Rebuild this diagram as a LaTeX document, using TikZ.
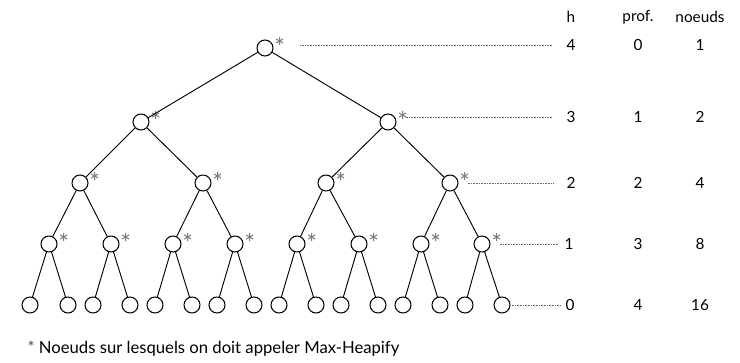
\documentclass[tikz,border=0pt]{standalone}
\usepackage{fontspec}
\setmainfont{Lato}
\usepackage{tikz}
\usetikzlibrary{positioning}

\begin{document}
\begin{tikzpicture}[x=0.75pt, y=-0.75pt,
    vertex/.style={circle, draw, line width=0.8pt, minimum size=12pt, inner sep=0pt},
    heap/.style={vertex, label={[gray!90!black, font=\fontsize{19}{19}\selectfont, inner sep=0pt, label distance=0.5pt, yshift=1pt]0:*}},
    edge/.style={line width=0.7pt},
    guide/.style={line width=0.5pt, dash pattern=on 0.5pt off 0.7pt, gray!80!black},
    col/.style={font=\fontsize{11.5}{13}\selectfont, inner sep=1pt}
]
\useasboundingbox (0,0) rectangle (740,363);

% the tree
\node[heap] (r) at (265,48) {};

\node[heap] (a1) at (141,122) {};
\node[heap] (a2) at (388,122) {};

\node[heap] (b1) at (80,183) {};
\node[heap] (b2) at (203,183) {};
\node[heap] (b3) at (326,183) {};
\node[heap] (b4) at (450,183) {};

\node[heap] (c1) at (49,244) {};
\node[heap] (c2) at (111,244) {};
\node[heap] (c3) at (173,244) {};
\node[heap] (c4) at (235,244) {};
\node[heap] (c5) at (297,244) {};
\node[heap] (c6) at (359,244) {};
\node[heap] (c7) at (421,244) {};
\node[heap] (c8) at (482,244) {};

\node[vertex] (d1) at (30,305) {};
\node[vertex] (d2) at (68,305) {};
\node[vertex] (d3) at (93,305) {};
\node[vertex] (d4) at (130,305) {};
\node[vertex] (d5) at (155,305) {};
\node[vertex] (d6) at (192,305) {};
\node[vertex] (d7) at (217,305) {};
\node[vertex] (d8) at (254,305) {};
\node[vertex] (d9) at (279,305) {};
\node[vertex] (d10) at (316,305) {};
\node[vertex] (d11) at (341,305) {};
\node[vertex] (d12) at (378,305) {};
\node[vertex] (d13) at (403,305) {};
\node[vertex] (d14) at (440,305) {};
\node[vertex] (d15) at (465,305) {};
\node[vertex] (d16) at (502,305) {};

\draw[edge] (r) -- (a1);
\draw[edge] (r) -- (a2);
\draw[edge] (a1) -- (b1);
\draw[edge] (a1) -- (b2);
\draw[edge] (a2) -- (b3);
\draw[edge] (a2) -- (b4);
\draw[edge] (b1) -- (c1);
\draw[edge] (b1) -- (c2);
\draw[edge] (b2) -- (c3);
\draw[edge] (b2) -- (c4);
\draw[edge] (b3) -- (c5);
\draw[edge] (b3) -- (c6);
\draw[edge] (b4) -- (c7);
\draw[edge] (b4) -- (c8);
\draw[edge] (c1) -- (d1);
\draw[edge] (c1) -- (d2);
\draw[edge] (c2) -- (d3);
\draw[edge] (c2) -- (d4);
\draw[edge] (c3) -- (d5);
\draw[edge] (c3) -- (d6);
\draw[edge] (c4) -- (d7);
\draw[edge] (c4) -- (d8);
\draw[edge] (c5) -- (d9);
\draw[edge] (c5) -- (d10);
\draw[edge] (c6) -- (d11);
\draw[edge] (c6) -- (d12);
\draw[edge] (c7) -- (d13);
\draw[edge] (c7) -- (d14);
\draw[edge] (c8) -- (d15);
\draw[edge] (c8) -- (d16);

% table on the right
\node[col] (hh) at (571,17) {h};
\node[col] (ph) at (638,17) {prof.};
\node[col] (nh) at (700,17) {noeuds};

\node[col] (h4) at (571,45) {4};
\node[col] (p4) at (638,45) {0};
\node[col] (n4) at (700,45) {1};
\node[col] (h3) at (571,117) {3};
\node[col] (p3) at (638,117) {1};
\node[col] (n3) at (700,117) {2};
\node[col] (h2) at (571,183) {2};
\node[col] (p2) at (638,183) {2};
\node[col] (n2) at (700,183) {4};
\node[col] (h1) at (569,244) {1};
\node[col] (p1) at (638,244) {3};
\node[col] (n1) at (700,244) {8};
\node[col] (h0) at (570,305) {0};
\node[col] (p0) at (638,305) {4};
\node[col] (n0) at (700,305) {16};

\draw[guide] ([xshift=20pt]r.east |- h4.west) -- ([xshift=-9pt]h4.west);
\draw[guide] ([xshift=7pt]a2.east |- h3.west) -- ([xshift=-9pt]h3.west);
\draw[guide] ([xshift=7pt]b4.east |- h2.west) -- ([xshift=-9pt]h2.west);
\draw[guide] ([xshift=7pt]c8.east |- h1.west) -- ([xshift=-3pt]h1.west);
\draw[guide] ([xshift=1pt]d16.east |- h0.west) -- ([xshift=-3pt]h0.west);

\node[col, anchor=west, font=\fontsize{12.5}{14}\selectfont] (note) at (26,349) {\textcolor{gray!60!black}{*} Noeuds sur lesquels on doit appeler Max-Heapify};
\end{tikzpicture}
\end{document}
